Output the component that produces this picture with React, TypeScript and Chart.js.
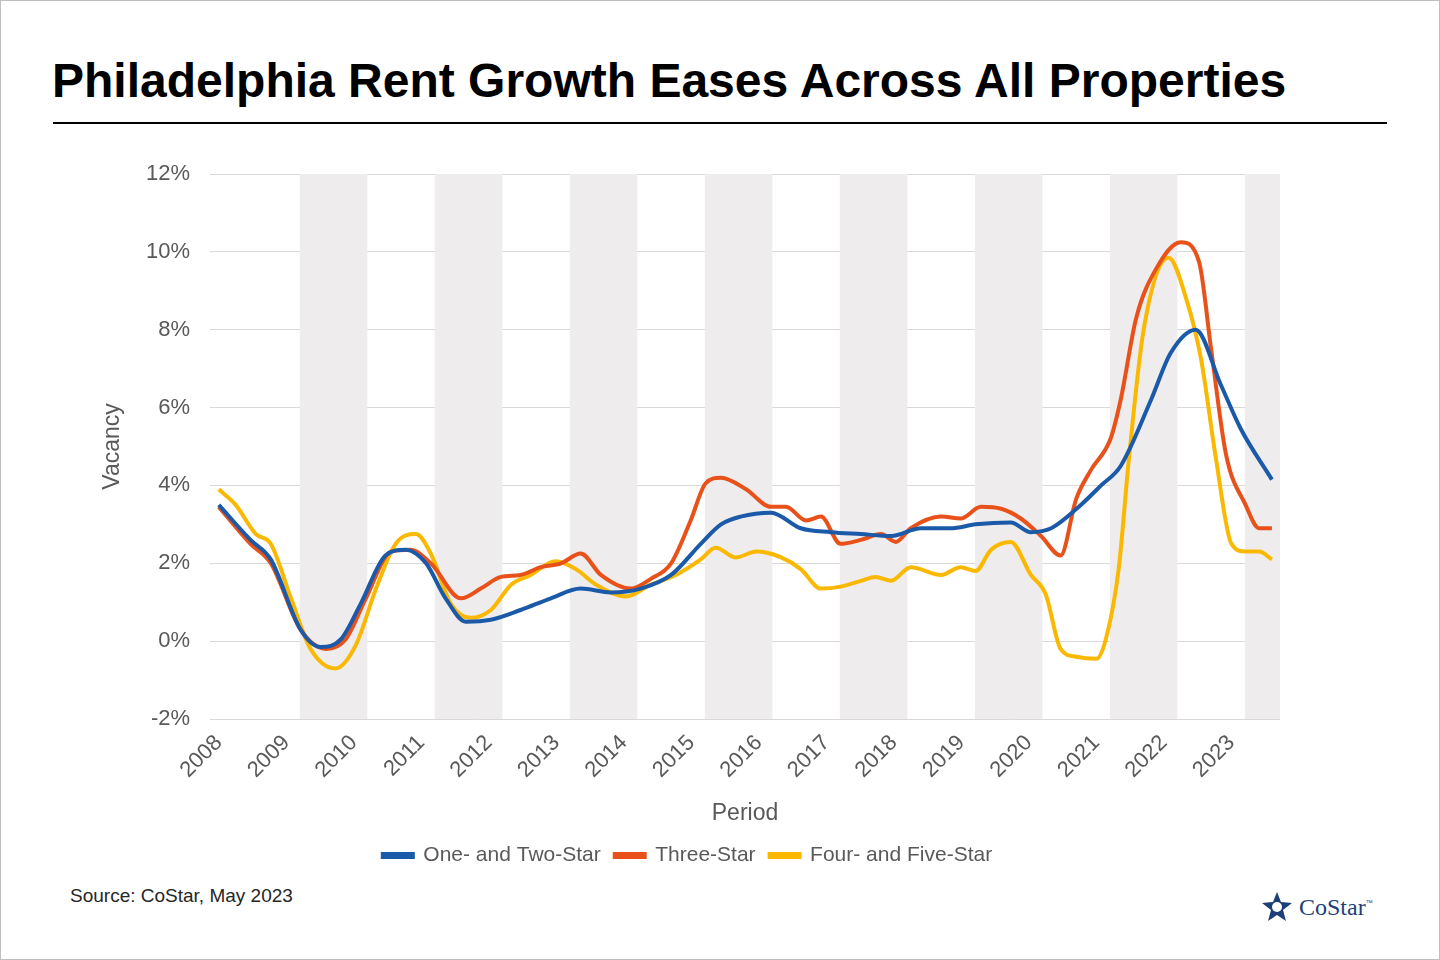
import React, { useEffect, useRef } from "react";
import { Chart, registerables } from "chart.js";
Chart.register(...registerables);

const yearTicks = [2008,2009,2010,2011,2012,2013,2014,2015,2016,2017,2018,2019,2020,2021,2022,2023];
const bandStarts = [2009.2, 2011.2, 2013.2, 2015.2, 2017.2, 2019.2, 2021.2, 2023.2];

const blueX = [2008.0,2008.47,2008.77,2009.21,2009.51,2009.81,2010.10,2010.47,2010.77,2011.07,2011.36,2011.66,2012.03,2012.47,2012.92,2013.36,2013.81,2014.25,2014.70,2015.14,2015.44,2015.73,2016.18,2016.62,2017.07,2017.51,2017.96,2018.40,2018.84,2019.21,2019.73,2020.03,2020.33,2020.77,2021.07,2021.36,2021.81,2022.10,2022.47,2022.84,2023.14,2023.60];
const blueY = [3.5,2.6,2.1,0.3,-0.15,0.05,0.95,2.2,2.35,2.0,1.1,0.5,0.55,0.8,1.1,1.35,1.25,1.35,1.7,2.5,3.0,3.2,3.3,2.9,2.8,2.75,2.7,2.9,2.9,3.0,3.05,2.8,2.9,3.5,4.0,4.5,6.2,7.4,8.0,6.6,5.45,4.15];

const orangeX = [2008.0,2008.47,2008.77,2009.21,2009.59,2009.88,2010.18,2010.55,2010.84,2011.14,2011.59,2011.88,2012.18,2012.47,2012.77,2013.07,2013.36,2013.66,2014.10,2014.40,2014.70,2014.99,2015.21,2015.44,2015.81,2016.18,2016.40,2016.70,2016.92,2017.21,2017.51,2017.81,2018.03,2018.25,2018.70,2018.99,2019.29,2019.59,2019.88,2020.18,2020.47,2020.70,2020.92,2021.21,2021.36,2021.59,2021.88,2022.25,2022.52,2022.70,2022.92,2023.21,2023.41,2023.60];
const orangeY = [3.45,2.5,2.0,0.3,-0.2,0.05,1.1,2.3,2.35,2.0,1.1,1.35,1.65,1.7,1.9,2.0,2.25,1.7,1.35,1.6,2.0,3.1,4.05,4.2,3.9,3.45,3.45,3.1,3.2,2.5,2.6,2.75,2.55,2.9,3.2,3.15,3.45,3.4,3.15,2.7,2.2,3.65,4.4,5.2,6.2,8.3,9.55,10.25,9.75,7.5,4.8,3.5,2.9,2.9];

const yellowX = [2008.0,2008.25,2008.55,2008.77,2009.07,2009.36,2009.73,2010.03,2010.33,2010.62,2010.92,2011.14,2011.44,2011.73,2012.03,2012.33,2012.62,2012.99,2013.29,2013.59,2014.03,2014.40,2014.77,2015.14,2015.36,2015.66,2015.96,2016.33,2016.62,2016.92,2017.21,2017.51,2017.73,2017.96,2018.25,2018.70,2018.99,2019.21,2019.44,2019.73,2020.03,2020.25,2020.47,2020.70,2021.00,2021.14,2021.33,2021.48,2021.70,2022.07,2022.33,2022.55,2022.77,2023.00,2023.21,2023.41,2023.60];
const yellowY = [3.9,3.5,2.75,2.5,1.1,-0.2,-0.7,-0.1,1.35,2.5,2.75,2.25,0.95,0.6,0.8,1.45,1.7,2.05,1.85,1.45,1.15,1.45,1.7,2.1,2.4,2.15,2.3,2.15,1.85,1.35,1.4,1.55,1.65,1.55,1.9,1.7,1.9,1.8,2.35,2.55,1.7,1.2,-0.2,-0.4,-0.45,0.05,1.85,4.65,8.0,9.85,8.8,7.25,4.7,2.5,2.3,2.3,2.1];

const pts = (xs: number[], ys: number[]) => xs.map((x, i) => ({ x, y: ys[i] }));

const bandPlugin = {
  id: "bands",
  beforeDatasetsDraw(chart: any) {
    const { ctx, chartArea: a, scales } = chart;
    const xs = scales.x, ys = scales.y;
    ctx.save();
    ctx.beginPath();
    ctx.rect(a.left, a.top, a.right - a.left, a.bottom - a.top);
    ctx.clip();
    ctx.fillStyle = "#eeecec";
    for (const s of bandStarts) {
      const l = xs.getPixelForValue(s), r = xs.getPixelForValue(s + 1);
      ctx.fillRect(l, ys.getPixelForValue(12), r - l, ys.getPixelForValue(-2) - ys.getPixelForValue(12));
    }
    ctx.restore();
  },
};

export default function App() {
  const ref = useRef<HTMLCanvasElement>(null);
  useEffect(() => {
    document.body.style.margin = "0";
    const gray = "#595959";
    const font = "Liberation Sans, Arial, sans-serif";
    const ds = (label: string, data: any, color: string) => ({
      label, data, borderColor: color, backgroundColor: color, borderWidth: 4,
      pointRadius: 0, tension: 0.4, cubicInterpolationMode: "monotone" as const,
    });
    const chart = new Chart(ref.current!, {
      type: "line",
      data: {
        datasets: [
          ds("One- and Two-Star", pts(blueX, blueY), "#1a5aa8"),
          ds("Three-Star", pts(orangeX, orangeY), "#e8521a"),
          ds("Four- and Five-Star", pts(yellowX, yellowY), "#fbb800"),
        ],
      },
      options: {
        animation: false, responsive: false,
        layout: { padding: { left: 95, right: 160, top: 44, bottom: 4 } },
        plugins: {
          legend: {
            position: "bottom",
            labels: { color: gray, font: { family: font, size: 21 }, boxWidth: 30, boxHeight: 3, padding: 14 },
          },
          tooltip: { enabled: false },
        },
        scales: {
          x: {
            type: "linear", min: 2007.87, max: 2023.72,
            afterBuildTicks: (s: any) => { s.ticks = yearTicks.map((v) => ({ value: v })); },
            afterFit: (s: any) => { s.height = 112; },
            grid: { display: false },
            border: { display: false },
            ticks: { color: gray, font: { family: font, size: 22 }, maxRotation: 45, minRotation: 45, autoSkip: false, callback: (v: any) => String(v) },
            title: { display: true, text: "Period", color: gray, font: { family: font, size: 23 }, padding: { top: 0 } },
          },
          y: {
            min: -2, max: 12,
            afterFit: (s: any) => { s.width = 115; },
            ticks: { stepSize: 2, color: gray, font: { family: font, size: 22 }, padding: 20, callback: (v: any) => v + "%" },
            grid: { color: "#d9d9d9", drawTicks: false },
            border: { display: false },
            title: { display: true, text: "Vacancy", color: gray, font: { family: font, size: 23 } },
          },
        },
      },
      plugins: [bandPlugin],
    });
    return () => chart.destroy();
  }, []);
  return (
    <div style={{ position: "relative", width: 1438, height: 958, border: "1px solid #bfbfbf", background: "#fff", fontFamily: "Liberation Sans, Arial, sans-serif", overflow: "hidden" }}>
      <div style={{ position: "absolute", left: 51, top: 52, fontSize: 48, fontWeight: "bold", color: "#000", whiteSpace: "nowrap" }}>
        Philadelphia Rent Growth Eases Across All Properties
      </div>
      <div style={{ position: "absolute", left: 52, top: 121, width: 1334, height: 2, background: "#000" }} />
      <canvas ref={ref} width={1440} height={750} style={{ position: "absolute", left: -1, top: 129 }} />
      <div style={{ position: "absolute", left: 69, top: 884, fontSize: 19, color: "#262626" }}>Source: CoStar, May 2023</div>
      <div style={{ position: "absolute", left: 1260, top: 890, display: "flex", alignItems: "center" }}>
        <svg width="32" height="32" viewBox="0 0 32 32">
          <polygon points="16,1 20,11 31,12 22,19 25,30 16,24 7,30 10,19 1,12 12,11" fill="#1c3f7a" />
          <circle cx="16" cy="16" r="5" fill="#fff" />
        </svg>
        <span style={{ fontFamily: "Liberation Serif, serif", fontSize: 24, color: "#1c3f7a", marginLeft: 6 }}>CoStar</span>
        <span style={{ fontSize: 7, color: "#1c3f7a", marginBottom: 10 }}>™</span>
      </div>
    </div>
  );
}
